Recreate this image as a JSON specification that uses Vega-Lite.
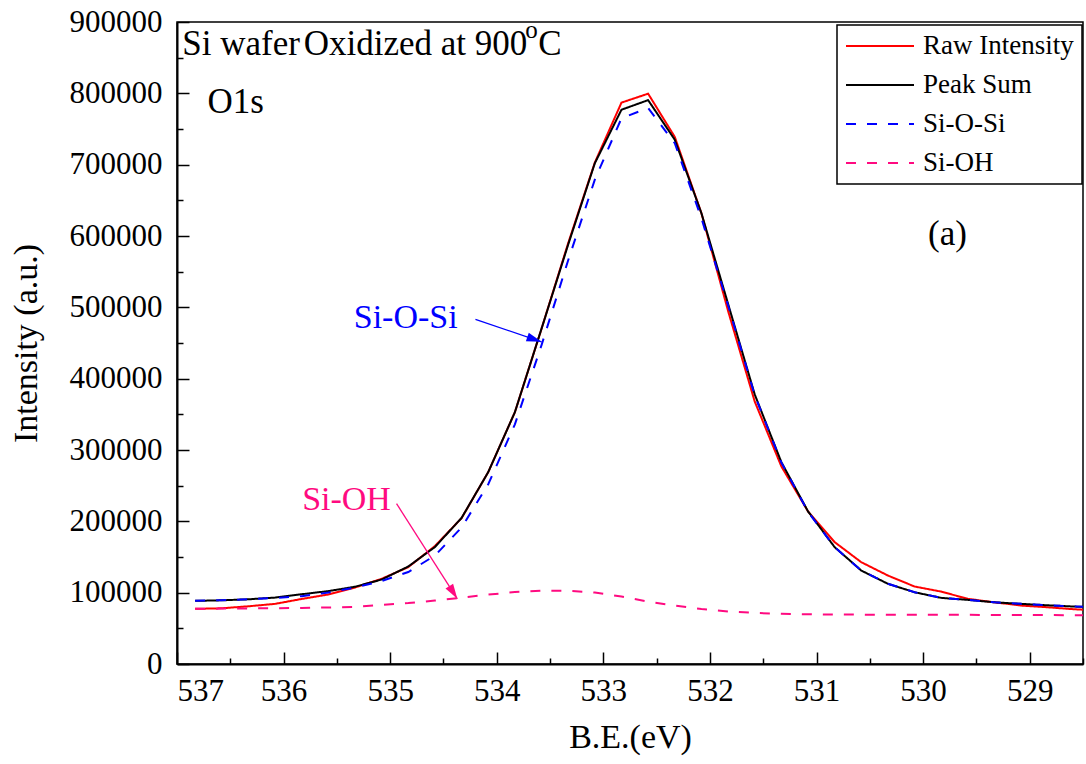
{
 "$schema": "https://vega.github.io/schema/vega-lite/v6.json",
 "width": 906, "height": 642,
 "autosize": {"type": "none"},
 "padding": {"left": 177, "top": 22, "right": 3, "bottom": 100},
 "background": "white",
 "config": {
  "font": "Liberation Serif",
  "view": {"stroke": "black", "strokeWidth": 1.5},
  "axis": {"domainColor": "black", "domainWidth": 2, "tickColor": "black", "tickWidth": 1.5, "labelColor": "black", "titleColor": "black", "labelFont": "Liberation Serif", "titleFont": "Liberation Serif", "labelFontSize": 31, "titleFontSize": 34, "titleFontWeight": "normal", "grid": false},
  "legend": {"strokeWidth": 1.5, "labelFont": "Liberation Serif", "labelFontSize": 27, "labelColor": "black", "labelOffset": 8, "labelLimit": 400, "padding": 8, "rowPadding": 12, "clipHeight": 26, "symbolType": "stroke", "symbolSize": 4624, "symbolStrokeWidth": 2, "strokeColor": "black", "fillColor": "white"}
 },
 "datasets": {
  "spectra": [
   {"be":536.83,"series":"Raw Intensity","counts":77300},{"be":536.58,"series":"Raw Intensity","counts":78100},{"be":536.33,"series":"Raw Intensity","counts":80900},{"be":536.08,"series":"Raw Intensity","counts":84300},{"be":535.83,"series":"Raw Intensity","counts":91200},{"be":535.58,"series":"Raw Intensity","counts":97500},{"be":535.33,"series":"Raw Intensity","counts":107200},{"be":535.08,"series":"Raw Intensity","counts":119500},{"be":534.83,"series":"Raw Intensity","counts":135800},{"be":534.58,"series":"Raw Intensity","counts":165400},{"be":534.33,"series":"Raw Intensity","counts":204500},{"be":534.08,"series":"Raw Intensity","counts":269000},{"be":533.83,"series":"Raw Intensity","counts":353000},{"be":533.58,"series":"Raw Intensity","counts":470000},{"be":533.33,"series":"Raw Intensity","counts":590000},{"be":533.08,"series":"Raw Intensity","counts":703000},{"be":532.83,"series":"Raw Intensity","counts":787000},{"be":532.58,"series":"Raw Intensity","counts":799500},{"be":532.33,"series":"Raw Intensity","counts":739000},{"be":532.08,"series":"Raw Intensity","counts":632000},{"be":531.83,"series":"Raw Intensity","counts":495000},{"be":531.58,"series":"Raw Intensity","counts":368000},{"be":531.33,"series":"Raw Intensity","counts":277000},{"be":531.08,"series":"Raw Intensity","counts":214000},{"be":530.83,"series":"Raw Intensity","counts":170800},{"be":530.58,"series":"Raw Intensity","counts":142700},{"be":530.33,"series":"Raw Intensity","counts":124000},{"be":530.08,"series":"Raw Intensity","counts":108600},{"be":529.83,"series":"Raw Intensity","counts":101500},{"be":529.58,"series":"Raw Intensity","counts":91300},{"be":529.33,"series":"Raw Intensity","counts":86500},{"be":529.08,"series":"Raw Intensity","counts":81900},{"be":528.83,"series":"Raw Intensity","counts":79500},{"be":528.58,"series":"Raw Intensity","counts":76700},{"be":528.33,"series":"Raw Intensity","counts":75000},
   {"be":536.83,"series":"Peak Sum","counts":88500},{"be":536.58,"series":"Peak Sum","counts":89300},{"be":536.33,"series":"Peak Sum","counts":90700},{"be":536.08,"series":"Peak Sum","counts":93100},{"be":535.83,"series":"Peak Sum","counts":97800},{"be":535.58,"series":"Peak Sum","counts":102200},{"be":535.33,"series":"Peak Sum","counts":108300},{"be":535.08,"series":"Peak Sum","counts":118400},{"be":534.83,"series":"Peak Sum","counts":136700},{"be":534.58,"series":"Peak Sum","counts":164000},{"be":534.33,"series":"Peak Sum","counts":204800},{"be":534.08,"series":"Peak Sum","counts":269000},{"be":533.83,"series":"Peak Sum","counts":353000},{"be":533.58,"series":"Peak Sum","counts":470000},{"be":533.33,"series":"Peak Sum","counts":588000},{"be":533.08,"series":"Peak Sum","counts":702000},{"be":532.83,"series":"Peak Sum","counts":777000},{"be":532.58,"series":"Peak Sum","counts":790500},{"be":532.33,"series":"Peak Sum","counts":735000},{"be":532.08,"series":"Peak Sum","counts":632000},{"be":531.83,"series":"Peak Sum","counts":505000},{"be":531.58,"series":"Peak Sum","counts":378000},{"be":531.33,"series":"Peak Sum","counts":283000},{"be":531.08,"series":"Peak Sum","counts":214000},{"be":530.83,"series":"Peak Sum","counts":163800},{"be":530.58,"series":"Peak Sum","counts":131000},{"be":530.33,"series":"Peak Sum","counts":112400},{"be":530.08,"series":"Peak Sum","counts":100600},{"be":529.83,"series":"Peak Sum","counts":92700},{"be":529.58,"series":"Peak Sum","counts":89900},{"be":529.33,"series":"Peak Sum","counts":86500},{"be":529.08,"series":"Peak Sum","counts":84300},{"be":528.83,"series":"Peak Sum","counts":82300},{"be":528.58,"series":"Peak Sum","counts":80500},{"be":528.33,"series":"Peak Sum","counts":79500},
   {"be":536.83,"series":"Si-O-Si","counts":88700},{"be":536.58,"series":"Si-O-Si","counts":89500},{"be":536.33,"series":"Si-O-Si","counts":90700},{"be":536.08,"series":"Si-O-Si","counts":92500},{"be":535.83,"series":"Si-O-Si","counts":95000},{"be":535.58,"series":"Si-O-Si","counts":100100},{"be":535.33,"series":"Si-O-Si","counts":107200},{"be":535.08,"series":"Si-O-Si","counts":116300},{"be":534.83,"series":"Si-O-Si","counts":129000},{"be":534.58,"series":"Si-O-Si","counts":152100},{"be":534.33,"series":"Si-O-Si","counts":191400},{"be":534.08,"series":"Si-O-Si","counts":252000},{"be":533.83,"series":"Si-O-Si","counts":336000},{"be":533.58,"series":"Si-O-Si","counts":447000},{"be":533.33,"series":"Si-O-Si","counts":566000},{"be":533.08,"series":"Si-O-Si","counts":679000},{"be":532.83,"series":"Si-O-Si","counts":765000},{"be":532.58,"series":"Si-O-Si","counts":779500},{"be":532.33,"series":"Si-O-Si","counts":730000},{"be":532.08,"series":"Si-O-Si","counts":625000},{"be":531.83,"series":"Si-O-Si","counts":503000},{"be":531.58,"series":"Si-O-Si","counts":377000},{"be":531.33,"series":"Si-O-Si","counts":282500},{"be":531.08,"series":"Si-O-Si","counts":213500},{"be":530.83,"series":"Si-O-Si","counts":163800},{"be":530.58,"series":"Si-O-Si","counts":131000},{"be":530.33,"series":"Si-O-Si","counts":112400},{"be":530.08,"series":"Si-O-Si","counts":100600},{"be":529.83,"series":"Si-O-Si","counts":92700},{"be":529.58,"series":"Si-O-Si","counts":89900},{"be":529.33,"series":"Si-O-Si","counts":86500},{"be":529.08,"series":"Si-O-Si","counts":84300},{"be":528.83,"series":"Si-O-Si","counts":82300},{"be":528.58,"series":"Si-O-Si","counts":80500},{"be":528.33,"series":"Si-O-Si","counts":79500},
   {"be":536.83,"series":"Si-OH","counts":77300},{"be":536.58,"series":"Si-OH","counts":77700},{"be":536.33,"series":"Si-OH","counts":77900},{"be":536.08,"series":"Si-OH","counts":78200},{"be":535.83,"series":"Si-OH","counts":78600},{"be":535.58,"series":"Si-OH","counts":79200},{"be":535.33,"series":"Si-OH","counts":80100},{"be":535.08,"series":"Si-OH","counts":82900},{"be":534.83,"series":"Si-OH","counts":85400},{"be":534.58,"series":"Si-OH","counts":88900},{"be":534.33,"series":"Si-OH","counts":93100},{"be":534.08,"series":"Si-OH","counts":97300},{"be":533.83,"series":"Si-OH","counts":100800},{"be":533.58,"series":"Si-OH","counts":102900},{"be":533.33,"series":"Si-OH","counts":102700},{"be":533.08,"series":"Si-OH","counts":100100},{"be":532.83,"series":"Si-OH","counts":94500},{"be":532.58,"series":"Si-OH","counts":87500},{"be":532.33,"series":"Si-OH","counts":81900},{"be":532.08,"series":"Si-OH","counts":77000},{"be":531.83,"series":"Si-OH","counts":73700},{"be":531.58,"series":"Si-OH","counts":71600},{"be":531.33,"series":"Si-OH","counts":70400},{"be":531.08,"series":"Si-OH","counts":69700},{"be":530.83,"series":"Si-OH","counts":69300},{"be":530.58,"series":"Si-OH","counts":69200},{"be":530.33,"series":"Si-OH","counts":69100},{"be":530.08,"series":"Si-OH","counts":69000},{"be":529.83,"series":"Si-OH","counts":69000},{"be":529.58,"series":"Si-OH","counts":68900},{"be":529.33,"series":"Si-OH","counts":68800},{"be":529.08,"series":"Si-OH","counts":68700},{"be":528.83,"series":"Si-OH","counts":68600},{"be":528.58,"series":"Si-OH","counts":68400},{"be":528.33,"series":"Si-OH","counts":68300}
  ],
  "blackText": [
   {"be":536.951,"counts":854400,"label":"Si wafer"},
   {"be":535.811,"counts":854400,"label":"Oxidized at 900"},
   {"be":533.61,"counts":854400,"label":"C"},
   {"be":536.714,"counts":772900,"label":"O1s"},
   {"be":529.954,"counts":587500,"label":"(a)"}
  ],
  "superText": [{"be":533.732,"counts":877500,"label":"o"}],
  "blueText": [{"be":535.342,"counts":470500,"label":"Si-O-Si"}],
  "pinkText": [{"be":535.826,"counts":215300,"label":"Si-OH"}],
  "blueArrow": [{"be":534.20,"counts":483100,"be2":533.58,"counts2":451700}],
  "pinkArrow": [{"be":534.94,"counts":224700,"be2":534.37,"counts2":91300}]
 },
 "layer": [
  {
   "data": {"name": "spectra"},
   "mark": {"type": "line", "strokeWidth": 2, "clip": true},
   "encoding": {
    "x": {"field": "be", "type": "quantitative", "scale": {"domain": [528.5, 537], "reverse": true, "nice": false, "zero": false},
          "axis": {"orient": "bottom", "values": [529,530,531,532,533,534,535,536,537], "title": "B.E.(eV)", "tickSize": -12, "labelPadding": 24, "titlePadding": 14}},
    "y": {"field": "counts", "type": "quantitative", "scale": {"domain": [0, 900000], "nice": false, "zero": true},
          "axis": {"orient": "left", "values": [0,100000,200000,300000,400000,500000,600000,700000,800000,900000], "format": "d", "title": "Intensity (a.u.)", "tickSize": -12, "labelPadding": 27, "titlePadding": 26}},
    "color": {"field": "series", "type": "nominal",
              "scale": {"domain": ["Raw Intensity","Peak Sum","Si-O-Si","Si-OH"], "range": ["#ff0000","#000000","#0000ff","#ff0a80"]},
              "legend": {"title": null, "orient": "none", "legendX": 660, "legendY": 3}},
    "strokeDash": {"field": "series", "type": "nominal",
              "scale": {"domain": ["Raw Intensity","Peak Sum","Si-O-Si","Si-OH"], "range": [[1,0],[1,0],[10,11],[10,11]]},
              "legend": {"title": null, "orient": "none", "legendX": 660, "legendY": 3}}
   }
  },
  {
   "data": {"name": "spectra"},
   "mark": {"type": "point", "opacity": 0},
   "encoding": {
    "x": {"field": "be", "type": "quantitative", "scale": {"domain": [528.5, 537], "reverse": true, "nice": false, "zero": false},
          "axis": {"orient": "bottom", "values": [528.5,529.5,530.5,531.5,532.5,533.5,534.5,535.5,536.5], "labels": false, "domain": false, "tickSize": -6, "title": null}},
    "y": {"field": "counts", "type": "quantitative", "scale": {"domain": [0, 900000], "nice": false, "zero": true},
          "axis": {"orient": "left", "values": [50000,150000,250000,350000,450000,550000,650000,750000,850000], "labels": false, "domain": false, "tickSize": -6, "title": null}}
   }
  },
  {
   "data": {"name": "blackText"},
   "mark": {"type": "text", "align": "left", "baseline": "alphabetic", "fontSize": 35, "font": "Liberation Serif", "color": "black"},
   "encoding": {"x": {"field": "be", "type": "quantitative", "axis": null}, "y": {"field": "counts", "type": "quantitative", "axis": null}, "text": {"field": "label"}}
  },
  {
   "data": {"name": "superText"},
   "mark": {"type": "text", "align": "left", "baseline": "alphabetic", "fontSize": 25, "font": "Liberation Serif", "color": "black"},
   "encoding": {"x": {"field": "be", "type": "quantitative", "axis": null}, "y": {"field": "counts", "type": "quantitative", "axis": null}, "text": {"field": "label"}}
  },
  {
   "data": {"name": "blueText"},
   "mark": {"type": "text", "align": "left", "baseline": "alphabetic", "fontSize": 34, "font": "Liberation Serif", "color": "#0000ff"},
   "encoding": {"x": {"field": "be", "type": "quantitative", "axis": null}, "y": {"field": "counts", "type": "quantitative", "axis": null}, "text": {"field": "label"}}
  },
  {
   "data": {"name": "pinkText"},
   "mark": {"type": "text", "align": "left", "baseline": "alphabetic", "fontSize": 34, "font": "Liberation Serif", "color": "#ff0a80"},
   "encoding": {"x": {"field": "be", "type": "quantitative", "axis": null}, "y": {"field": "counts", "type": "quantitative", "axis": null}, "text": {"field": "label"}}
  },
  {
   "data": {"name": "blueArrow"},
   "mark": {"type": "rule", "color": "#0000ff", "strokeWidth": 1.3},
   "encoding": {"x": {"field": "be", "type": "quantitative", "axis": null}, "y": {"field": "counts", "type": "quantitative", "axis": null}, "x2": {"field": "be2"}, "y2": {"field": "counts2"}}
  },
  {
   "data": {"name": "blueArrow"},
   "mark": {"type": "point", "shape": "M0,0L-0.3,1L0.3,1Z", "size": 900, "filled": true, "opacity": 1, "color": "#0000ff", "angle": 108.8},
   "encoding": {"x": {"field": "be2", "type": "quantitative", "axis": null}, "y": {"field": "counts2", "type": "quantitative", "axis": null}}
  },
  {
   "data": {"name": "pinkArrow"},
   "mark": {"type": "rule", "color": "#ff0a80", "strokeWidth": 1.3},
   "encoding": {"x": {"field": "be", "type": "quantitative", "axis": null}, "y": {"field": "counts", "type": "quantitative", "axis": null}, "x2": {"field": "be2"}, "y2": {"field": "counts2"}}
  },
  {
   "data": {"name": "pinkArrow"},
   "mark": {"type": "point", "shape": "M0,0L-0.3,1L0.3,1Z", "size": 900, "filled": true, "opacity": 1, "color": "#ff0a80", "angle": 147.7},
   "encoding": {"x": {"field": "be2", "type": "quantitative", "axis": null}, "y": {"field": "counts2", "type": "quantitative", "axis": null}}
  }
 ],
 "resolve": {"axis": {"x": "independent", "y": "independent"}}
}
